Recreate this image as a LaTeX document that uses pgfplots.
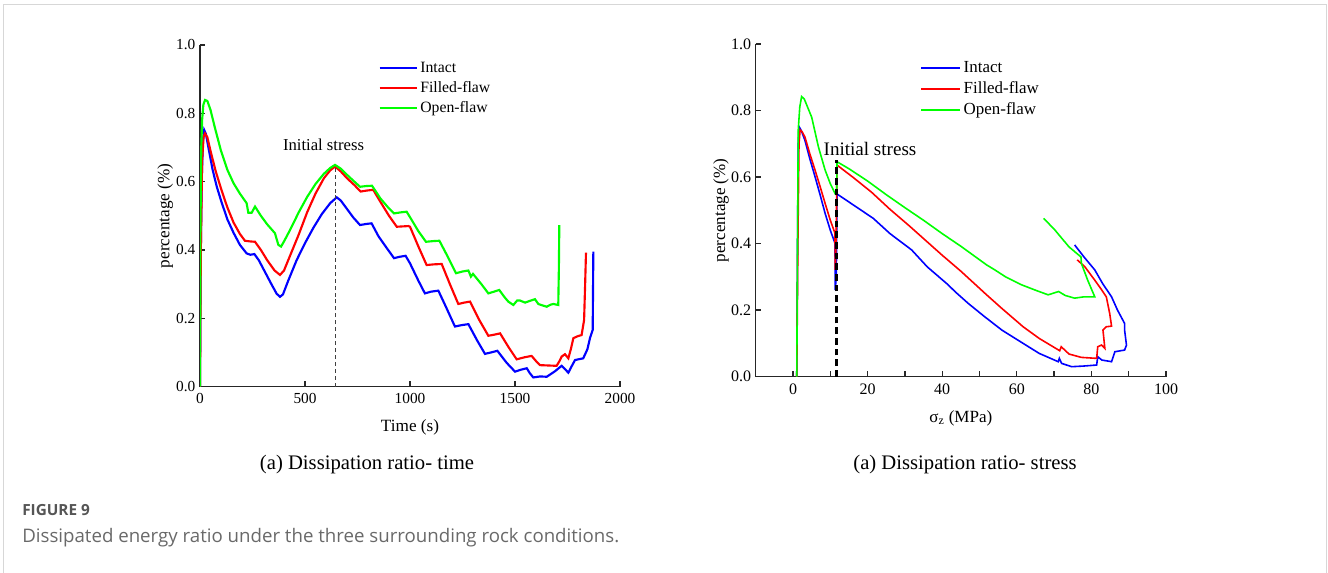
\documentclass[border=0pt]{standalone}
\usepackage{pgfplots}
\pgfplotsset{compat=1.18}
\usepackage{fontspec}
\setmainfont{Liberation Serif}
\newfontfamily\capfont{Open Sans}

\definecolor{cblue}{RGB}{0,0,255}
\definecolor{cred}{RGB}{255,0,0}
\definecolor{cgreen}{RGB}{0,255,0}
\definecolor{framegray}{RGB}{215,215,215}
\definecolor{capgray}{RGB}{85,85,85}
\definecolor{txtgray}{RGB}{105,105,105}

\pgfplotsset{
  base/.style={
    scale only axis,
    axis x line*=bottom, axis y line*=left,
    axis line style={line width=1.1pt, black!85},
    tick align=inside, major tick length=4pt, minor tick length=4pt,
    every tick/.style={line width=1pt, black!85},
    /pgf/number format/assume math mode=true,
    /pgf/number format/1000 sep={},
    ymin=0, ymax=1, ytick={0,0.2,0.4,0.6,0.8,1},
    yticklabel style={/pgf/number format/.cd, fixed, fixed zerofill, precision=1},
    ylabel={percentage (\%)},
    legend cell align=left,
  },
}

\begin{document}
\begin{tikzpicture}

% (a) ratio against time
\begin{axis}[base,
  at={(150pt,-290.0pt)}, anchor=south west,
  width=315pt, height=256.3pt,
  xmin=0, xmax=2000, xtick={0,500,1000,1500,2000},
  xlabel={Time (s)},
  ticklabel style={font=\fontsize{11.5}{13}\selectfont},
  xticklabel style={yshift=-1.5pt},
  label style={font=\fontsize{12.9}{15}\selectfont},
  xlabel style={at={(axis description cs:0.5,-0.118)}, anchor=center},
  ylabel style={at={(axis description cs:-0.083,0.5)}, anchor=center},
  legend style={draw=none, fill=none, at={(axis description cs:0.415,0.970)}, anchor=north west,
    font=\fontsize{11.8}{13}\selectfont,
    nodes={inner sep=2pt, text height=8.5pt, text depth=2.5pt}},
  legend image code/.code={\draw[#1, line width=1.6pt] (0pt,0pt) -- (27.75pt,0pt);},
]
\addplot[cblue, line width=1.6pt] coordinates {
(0,0) (3,0.35) (8,0.6) (14,0.72) (20,0.751) (28,0.74) (40,0.70) (60,0.635) (80,0.585)
(100,0.545) (130,0.49) (160,0.45) (190,0.415) (222,0.39) (240,0.386) (259,0.388)
(280,0.37) (310,0.335) (340,0.30) (365,0.272) (381,0.263) (395,0.27) (420,0.31)
(460,0.37) (500,0.42) (540,0.465) (580,0.505) (620,0.537) (651,0.554) (670,0.545)
(700,0.52) (730,0.495) (762,0.473) (790,0.476) (817,0.478) (850,0.44) (890,0.405)
(924,0.376) (950,0.38) (979,0.383) (1000,0.361) (1040,0.31) (1071,0.273) (1100,0.278)
(1135,0.281) (1170,0.235) (1214,0.176) (1245,0.18) (1278,0.183) (1320,0.135)
(1357,0.096) (1385,0.1) (1416,0.105) (1460,0.07) (1500,0.044) (1530,0.05) (1556,0.054)
(1570,0.04) (1587,0.027) (1620,0.03) (1651,0.029) (1690,0.045) (1722,0.061) (1740,0.05)
(1754,0.041) (1770,0.06) (1786,0.078) (1825,0.083) (1845,0.11) (1857,0.142)
(1870,0.166) (1873,0.395)
};
\addlegendentry{Intact}
\addplot[cred, line width=1.6pt] coordinates {
(0,0) (4,0.4) (10,0.66) (17,0.73) (24,0.741) (35,0.73) (50,0.69) (75,0.63) (100,0.58)
(130,0.525) (160,0.48) (190,0.447) (214,0.427) (240,0.425) (262,0.424) (290,0.40)
(320,0.37) (355,0.34) (381,0.327) (400,0.34) (430,0.385) (470,0.445) (510,0.51)
(550,0.565) (590,0.61) (620,0.633) (643,0.644) (670,0.63) (700,0.61) (735,0.59)
(765,0.571) (795,0.574) (825,0.576) (860,0.54) (900,0.5) (937,0.468) (965,0.469)
(992,0.47) (1000,0.468) (1040,0.41) (1079,0.356) (1115,0.358) (1151,0.359) (1190,0.3)
(1230,0.242) (1258,0.246) (1286,0.249) (1330,0.195) (1373,0.149) (1400,0.152)
(1429,0.156) (1470,0.115) (1508,0.080) (1545,0.086) (1579,0.090) (1600,0.075)
(1619,0.063) (1660,0.062) (1698,0.061) (1712,0.075) (1722,0.088) (1738,0.095)
(1754,0.083) (1766,0.11) (1778,0.142) (1800,0.148) (1817,0.151) (1829,0.195)
(1834,0.3) (1838,0.392)
};
\addlegendentry{Filled-flaw}
\addplot[cgreen, line width=1.6pt] coordinates {
(0,0) (2,0.45) (6,0.70) (10,0.78) (16,0.825) (24,0.839) (35,0.836) (50,0.81) (70,0.76)
(100,0.69) (130,0.635) (160,0.595) (190,0.565) (222,0.537) (230,0.509) (246,0.509)
(262,0.527) (290,0.50) (320,0.475) (357,0.449) (373,0.415) (386,0.41) (400,0.425)
(430,0.46) (470,0.51) (510,0.555) (550,0.593) (590,0.623) (620,0.64) (643,0.649)
(670,0.638) (700,0.62) (735,0.6) (762,0.585) (790,0.587) (819,0.588) (860,0.55)
(895,0.525) (924,0.507) (955,0.51) (984,0.512) (1000,0.496) (1040,0.455) (1076,0.424)
(1110,0.426) (1140,0.427) (1180,0.38) (1219,0.332) (1250,0.337) (1278,0.34)
(1290,0.322) (1300,0.33) (1340,0.3) (1373,0.273) (1400,0.278) (1425,0.283)
(1450,0.262) (1468,0.249) (1492,0.239) (1510,0.252) (1524,0.252) (1548,0.246)
(1575,0.252) (1595,0.256) (1611,0.242) (1630,0.238) (1651,0.234) (1670,0.24)
(1683,0.242) (1706,0.239) (1709,0.35) (1711,0.473)
};
\addlegendentry{Open-flaw}
\addplot[black!75, line width=0.9pt, dash pattern=on 3pt off 2.2pt, forget plot]
  coordinates {(645,0) (645,0.644)};
\end{axis}

% (b) ratio against stress
\begin{axis}[base,
  at={(566.8pt,-282.5pt)}, anchor=south west,
  width=307.7pt, height=249.5pt,
  xmin=-10, xmax=100, xtick={0,20,40,60,80,100}, minor x tick num=1,
  xlabel={σ\textsubscript{z} (MPa)},
  ticklabel style={font=\fontsize{12}{14}\selectfont},
  xticklabel style={yshift=-1.5pt},
  label style={font=\fontsize{12.8}{15}\selectfont},
  xlabel style={at={(axis description cs:0.5,-0.124)}, anchor=center},
  ylabel style={at={(axis description cs:-0.0846,0.5)}, anchor=center},
  legend style={draw=none, fill=none, at={(axis description cs:0.391,0.968)}, anchor=north west,
    font=\fontsize{12.7}{14}\selectfont,
    nodes={inner sep=2pt, text height=9pt, text depth=2.75pt}},
  legend image code/.code={\draw[#1, line width=1.2pt] (0pt,0pt) -- (29.25pt,0pt);},
]
\addplot[cblue, line width=1.2pt] coordinates {
(1.0,0) (1.2,0.4) (1.4,0.7) (1.6,0.752) (2.2,0.74) (3.2,0.71) (4.5,0.655) (5.9,0.601)
(7.3,0.545) (8.6,0.491) (10,0.44) (11.25,0.401) (11.3,0.26) (11.6,0.30) (11.8,0.549)
(15,0.525) (21.5,0.476) (26,0.43) (31.8,0.381) (36,0.33) (41.6,0.276) (43.4,0.256)
(47,0.22) (51.4,0.18) (56,0.14) (61.7,0.10) (66,0.07) (71.1,0.045) (71.4,0.055)
(72,0.04) (74.7,0.030) (78,0.032) (81.4,0.035) (81.7,0.06) (82.8,0.05) (85.4,0.045)
(86.3,0.075) (88.9,0.08) (89.4,0.095) (88.9,0.14) (88.9,0.16) (87,0.2) (85.4,0.24)
(83,0.28) (80.9,0.321) (78,0.36) (75.5,0.396)
};
\addlegendentry{Intact}
\addplot[cred, line width=1.2pt] coordinates {
(1.0,0) (1.3,0.4) (1.6,0.7) (1.9,0.742) (2.5,0.735) (3.2,0.72) (4.5,0.67) (5.9,0.621)
(7.3,0.57) (8.6,0.521) (10,0.47) (11.25,0.431) (11.3,0.321) (11.5,0.38) (11.8,0.636)
(16,0.6) (21,0.555) (26,0.503) (31,0.455) (36,0.405) (40,0.365) (45,0.317)
(51.9,0.246) (56,0.205) (61.7,0.150) (66,0.115) (71.5,0.078) (71.9,0.09) (74,0.068)
(77.3,0.058) (81.4,0.055) (81.7,0.09) (82.7,0.095) (83.6,0.085) (83.1,0.14) (84.0,0.150)
(85.4,0.152) (84.9,0.19) (84.0,0.24) (82.5,0.265) (80.9,0.29) (78.2,0.331) (76.2,0.351)
};
\addlegendentry{Filled-flaw}
\addplot[cgreen, line width=1.2pt] coordinates {
(1.0,0) (1.2,0.4) (1.4,0.742) (1.8,0.81) (2.3,0.842) (3,0.835) (5.0,0.78) (6.8,0.691)
(8.6,0.621) (10,0.58) (11.25,0.551) (11.7,0.56) (11.8,0.646) (15,0.625) (20,0.588)
(25,0.547) (30,0.508) (35,0.47) (40,0.43) (45,0.392) (51.9,0.336)
(54.1,0.321) (57,0.3) (61.3,0.276) (65,0.26) (68.4,0.246) (71.2,0.256) (73,0.244)
(75.5,0.236) (78,0.24) (80.9,0.240) (79,0.29) (77.3,0.341) (77.2,0.36) (74,0.39)
(70.2,0.441) (67.2,0.476)
};
\addlegendentry{Open-flaw}
\addplot[black, line width=2pt, dash pattern=on 5pt off 3pt, forget plot]
  coordinates {(11.7,0) (11.7,0.65)};
\end{axis}

\begin{scope}[x=0.75pt, y=-0.75pt]
\useasboundingbox (0,0) rectangle (1328,572);
\draw[framegray, line width=1.1pt] (3.5,573) -- (3.5,4.5) -- (1326.5,4.5) -- (1326.5,573);
\node[font=\fontsize{12.5}{14}\selectfont] at (323.5,145) {Initial stress};
\node[font=\fontsize{14.3}{16}\selectfont] at (870,149) {Initial stress};
\node[font=\fontsize{15.5}{17}\selectfont] at (367,465) {(a) Dissipation ratio- time};
\node[font=\fontsize{15.5}{17}\selectfont] at (965,465) {(a) Dissipation ratio- stress};
\node[anchor=base west, inner sep=0pt, text=capgray, font=\capfont\bfseries\fontsize{11.5}{13}\selectfont]
  at (22,515) {FIGURE 9};
\node[anchor=base west, inner sep=0pt, text=txtgray, font=\capfont\fontsize{14}{16}\selectfont]
  at (22,542) {Dissipated energy ratio under the three surrounding rock conditions.};
\end{scope}
\end{tikzpicture}
\end{document}
